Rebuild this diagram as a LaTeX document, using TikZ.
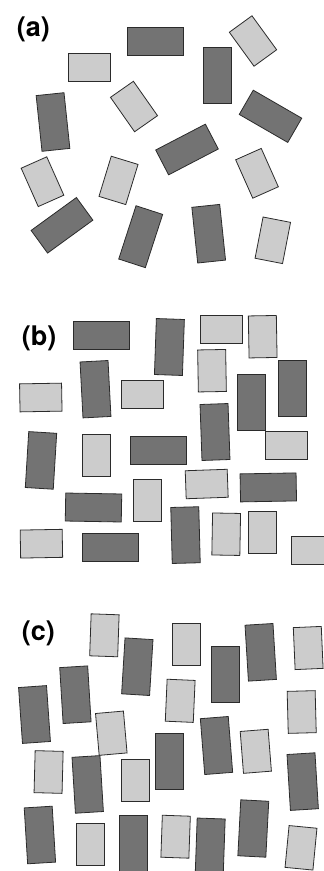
\documentclass[tikz,border=0pt]{standalone}
\usepackage{fontspec}
\newfontfamily\panelfont{TeX Gyre Heros}
\usepackage{tikz}
\usepackage{xcolor}

\definecolor{darkbrick}{HTML}{737373}
\definecolor{lightbrick}{HTML}{CCCCCC}
\definecolor{brickedge}{HTML}{2B2B2B}

\begin{document}
\begin{tikzpicture}[
    x=1pt, y=-1pt,
    darkbox/.style={
        rectangle, draw=brickedge, fill=darkbrick, line width=0.8pt,
        inner sep=0pt, minimum width=56pt, minimum height=28pt
    },
    lightbox/.style={
        rectangle, draw=brickedge, fill=lightbrick, line width=0.8pt,
        inner sep=0pt, minimum width=42pt, minimum height=28pt
    },
    panel/.style={inner sep=0pt, font=\panelfont\bfseries\fontsize{27}{30}\selectfont},
]
\useasboundingbox (0,0) rectangle (324,871);
\clip (0,0) rectangle (324,871);

% Panel (a): scattered blocks
\node[panel] (la) at (33.3,28.9) {(a)};
\node[darkbox, rotate=0] (a1) at (155,41.5) {};
\node[lightbox, rotate=0] (a2) at (89,67) {};
\node[lightbox, rotate=-54] (a3) at (253,41) {};
\node[darkbox, rotate=90] (a4) at (217,75.5) {};
\node[lightbox, rotate=-55] (a5) at (134,106.5) {};
\node[darkbox, rotate=96] (a6) at (53,122) {};
\node[darkbox, rotate=-30] (a7) at (270.5,116.3) {};
\node[darkbox, rotate=27.5] (a8) at (187,149.5) {};
\node[lightbox, rotate=-66] (a9) at (42.5,181.7) {};
\node[lightbox, rotate=73] (a10) at (118.5,180.4) {};
\node[lightbox, rotate=-66] (a11) at (257,173.3) {};
\node[darkbox, rotate=36] (a12) at (62,225.3) {};
\node[darkbox, rotate=72] (a13) at (140.7,236.7) {};
\node[darkbox, rotate=96] (a14) at (208.7,233.7) {};
\node[lightbox, rotate=79] (a15) at (272.8,240.3) {};

% Panel (b): nearly aligned blocks
\node[panel] (lb) at (39.2,338.3) {(b)};
\node[darkbox, rotate=0] (b1) at (101.7,335.2) {};
\node[darkbox, rotate=88] (b2) at (169.4,347) {};
\node[lightbox, rotate=0] (b3) at (221.7,329.2) {};
\node[lightbox, rotate=91] (b4) at (262.7,336.7) {};
\node[lightbox, rotate=91] (b5) at (212,370.7) {};
\node[darkbox, rotate=93] (b6) at (95.5,389.2) {};
\node[lightbox, rotate=1] (b7) at (40.8,397.5) {};
\node[lightbox, rotate=0] (b8) at (142.5,394.2) {};
\node[darkbox, rotate=90] (b9) at (251.2,402.2) {};
\node[darkbox, rotate=90] (b10) at (292.8,388.2) {};
\node[darkbox, rotate=92] (b11) at (215,432) {};
\node[darkbox, rotate=86.5] (b12) at (41,460.4) {};
\node[lightbox, rotate=90] (b13) at (96,455.2) {};
\node[darkbox, rotate=0] (b14) at (158.3,450.8) {};
\node[lightbox, rotate=0] (b15) at (286.2,445.8) {};
\node[lightbox, rotate=2] (b16) at (206.7,484) {};
\node[darkbox, rotate=1] (b17) at (268.3,487.4) {};
\node[darkbox, rotate=-1] (b18) at (93.5,507.5) {};
\node[lightbox, rotate=90] (b19) at (147.2,500.3) {};
\node[darkbox, rotate=91.5] (b20) at (185.5,535.1) {};
\node[lightbox, rotate=89] (b21) at (226.2,534.2) {};
\node[lightbox, rotate=90] (b22) at (262.5,532) {};
\node[lightbox, rotate=1] (b23) at (41.4,543.7) {};
\node[darkbox, rotate=0] (b24) at (110.7,547) {};
\node[lightbox, rotate=0] (b25) at (312,550.8) {};

% Panel (c): upright blocks
\node[panel] (lc) at (38.3,633.8) {(c)};
\node[lightbox, rotate=88] (c1) at (104.4,635.3) {};
\node[darkbox, rotate=86.5] (c2) at (137.3,666.7) {};
\node[lightbox, rotate=90] (c3) at (186.5,644.3) {};
\node[darkbox, rotate=93.5] (c4) at (260.7,652.3) {};
\node[lightbox, rotate=92.5] (c5) at (308.2,648) {};
\node[darkbox, rotate=90] (c6) at (225.8,674) {};
\node[darkbox, rotate=93.5] (c7) at (75.4,694.7) {};
\node[darkbox, rotate=94] (c8) at (34.5,714.5) {};
\node[lightbox, rotate=87.5] (c9) at (180.2,700.8) {};
\node[lightbox, rotate=91.5] (c10) at (301.7,712) {};
\node[lightbox, rotate=95] (c11) at (111.3,733.2) {};
\node[darkbox, rotate=94.5] (c12) at (216.5,745.5) {};
\node[lightbox, rotate=94.5] (c13) at (255.8,751.3) {};
\node[darkbox, rotate=90] (c14) at (169.3,761.7) {};
\node[lightbox, rotate=88.5] (c15) at (48.6,772) {};
\node[darkbox, rotate=93.5] (c16) at (87.7,784.4) {};
\node[lightbox, rotate=90] (c17) at (135.7,780) {};
\node[darkbox, rotate=93.5] (c18) at (302.7,781.6) {};
\node[darkbox, rotate=93.5] (c19) at (39.9,835) {};
\node[lightbox, rotate=90] (c20) at (90.2,844.8) {};
\node[darkbox, rotate=90] (c21) at (133.3,843.8) {};
\node[lightbox, rotate=88] (c22) at (175.6,836.7) {};
\node[darkbox, rotate=88] (c23) at (210.2,846.5) {};
\node[darkbox, rotate=87] (c24) at (253.3,828.5) {};
\node[lightbox, rotate=84.5] (c25) at (301,847.8) {};

\end{tikzpicture}
\end{document}
